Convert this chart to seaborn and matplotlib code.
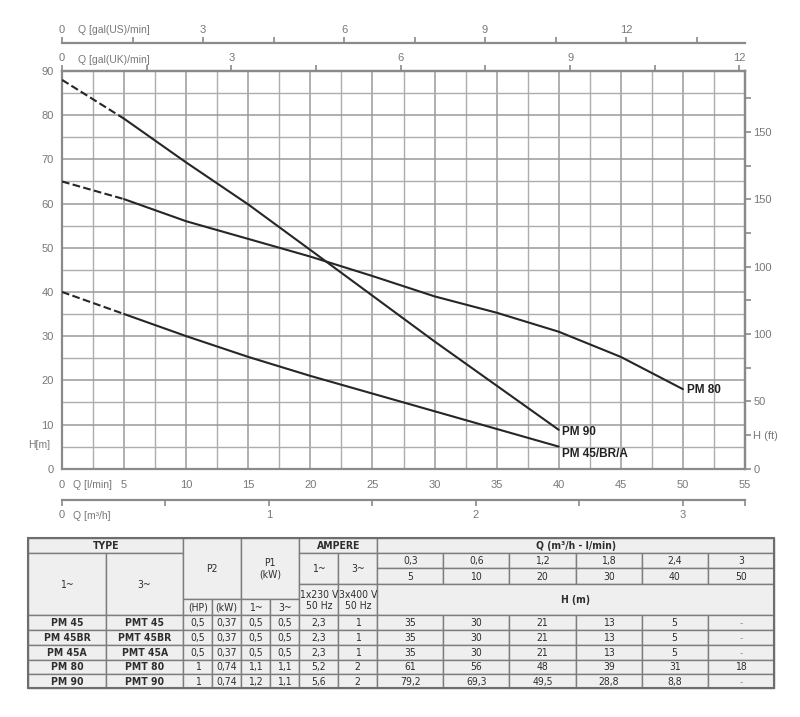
import numpy as np
import pandas as pd
import seaborn as sns
import matplotlib.pyplot as plt
from matplotlib import font_manager
from matplotlib.patches import Rectangle

# pump curves, Q in l/min, H in m
q_pm90 = [5, 10, 15, 20, 30, 40]
h_pm90 = [79.2, 69.3, 59.8, 49.5, 28.8, 8.8]
q_pm80 = [5, 10, 15, 20, 25, 30, 35, 40, 45, 50]
h_pm80 = [61, 56, 52, 48, 43.6, 39, 35.3, 31, 25.3, 18]
q_pm45 = [5, 10, 15, 20, 25, 30, 35, 40]
h_pm45 = [35, 30, 25.3, 21, 17, 13, 9, 5]
# head at zero flow (dashed extension)
h0_pm90 = 88
h0_pm80 = 65
h0_pm45 = 40

# table data
type_1ph = ['PM 45', 'PM 45BR', 'PM 45A', 'PM 80', 'PM 90']
type_3ph = ['PMT 45', 'PMT 45BR', 'PMT 45A', 'PMT 80', 'PMT 90']
p2_hp = ['0,5', '0,5', '0,5', '1', '1']
p2_kw = ['0,37', '0,37', '0,37', '0,74', '0,74']
p1_1ph = ['0,5', '0,5', '0,5', '1,1', '1,2']
p1_3ph = ['0,5', '0,5', '0,5', '1,1', '1,1']
amp_1ph = ['2,3', '2,3', '2,3', '5,2', '5,6']
amp_3ph = ['1', '1', '1', '2', '2']
q_m3h = ['0,3', '0,6', '1,2', '1,8', '2,4', '3']
q_lmin = ['5', '10', '20', '30', '40', '50']
head_rows = [
    ['35', '30', '21', '13', '5', '-'],
    ['35', '30', '21', '13', '5', '-'],
    ['35', '30', '21', '13', '5', '-'],
    ['61', '56', '48', '39', '31', '18'],
    ['79,2', '69,3', '49,5', '28,8', '8,8', '-'],
]

sns.set_style('white')
plt.rcParams['font.family'] = ['Liberation Sans', 'DejaVu Sans']

# the table uses a condensed face if one is installed
fl = font_manager.fontManager.ttflist
if any(f.name == 'Liberation Sans Narrow' for f in fl):
    tfam, tstretch, tsize, vsize = ['Liberation Sans Narrow', 'DejaVu Sans'], 'normal', 8.5, 8.5
elif any(f.name == 'DejaVu Sans' and f.stretch == 'condensed' for f in fl):
    tfam, tstretch, tsize, vsize = ['DejaVu Sans'], 'condensed', 7.5, 7.5
else:
    tfam, tstretch, tsize, vsize = ['Liberation Sans', 'DejaVu Sans'], 'normal', 7.8, 6.8

GRID = '#9a9a9a'
AXC = '#8a8a8a'
TXT = '#787878'
LINE = '#262626'

fig = plt.figure(figsize=(8, 7.17), dpi=100)
ax = fig.add_axes([62 / 800, 1 - 468.7 / 717, 683 / 800, 397.7 / 717])

# curves
curves = {'PM 90': (q_pm90, h_pm90, h0_pm90),
          'PM 80': (q_pm80, h_pm80, h0_pm80),
          'PM 45/BR/A': (q_pm45, h_pm45, h0_pm45)}
for name, (q, h, h0) in curves.items():
    solid = pd.DataFrame({'Q': q, 'H': h})
    ext = pd.DataFrame({'Q': [0, q[0]], 'H': [h0, h[0]]})
    sns.lineplot(data=solid, x='Q', y='H', ax=ax, color=LINE, lw=1.5,
                 estimator=None, sort=False, zorder=3)
    sns.lineplot(data=ext, x='Q', y='H', ax=ax, color=LINE, lw=1.5,
                 estimator=None, sort=False, zorder=3, dashes=(3, 2), linestyle='--')

ax.text(50.3, 17.8, 'PM 80', fontsize=8.5, fontweight='bold', color='#222', va='center')
ax.text(40.3, 8.3, 'PM 90', fontsize=8.5, fontweight='bold', color='#222', va='center')
ax.text(40.3, 3.3, 'PM 45/BR/A', fontsize=8.5, fontweight='bold', color='#222', va='center')

ax.set_xlim(0, 55)
ax.set_ylim(0, 90)
ax.set_xlabel('')
ax.set_ylabel('')
ax.set_xticks(np.arange(0, 56, 5))
ax.set_xticks(np.arange(2.5, 55, 5), minor=True)
ax.set_yticks(np.arange(0, 91, 10))
ax.set_yticks(np.arange(5, 90, 10), minor=True)
ax.grid(which='major', color=GRID, lw=1.1)
ax.grid(which='minor', color='#adadad', lw=1.0)
ax.set_axisbelow(True)
ax.tick_params(which='major', axis='both', direction='out', length=4, width=1.2,
               color=AXC, labelcolor=TXT, labelsize=8, pad=2)
ax.tick_params(which='minor', length=0)
ax.tick_params(axis='x', pad=4)
for s in ax.spines.values():
    s.set_color(AXC)
    s.set_linewidth(1.6)

ax.text(0.9, -0.042, 'Q [l/min]', transform=ax.get_xaxis_transform(),
        fontsize=7.5, color=TXT, va='center', clip_on=False)
ax.text(-0.97, 5.3, 'H[m]', fontsize=7.5, color=TXT, ha='right', va='center', clip_on=False)

# top axes: gal(UK)/min on the frame, gal(US)/min above it
uk = ax.secondary_xaxis('top', functions=(lambda x: x / 4.546, lambda g: g * 4.546))
uk.set_xticks([0, 3, 6, 9, 12])
uk.set_xticks([1.5, 4.5, 7.5, 10.5], minor=True)
us = ax.secondary_xaxis(1.0704, functions=(lambda x: x / 3.785, lambda g: g * 3.785))
us.set_xticks([0, 3, 6, 9, 12])
us.set_xticks([1.5, 4.5, 7.5, 10.5, 13.5], minor=True)
# bottom axis: m3/h
m3 = ax.secondary_xaxis(-0.0787, functions=(lambda x: x * 0.06, lambda v: v / 0.06))
m3.set_xticks([0, 1, 2, 3])
m3.set_xticks([0.5, 1.5, 2.5, 3.3], minor=True)
for sec in (uk, us, m3):
    sec.tick_params(which='both', direction='out', length=4, width=1.2,
                    color=AXC, labelcolor=TXT, labelsize=8, pad=2)
    for s in sec.spines.values():
        s.set_color(AXC)
        s.set_linewidth(1.6)
m3.tick_params(pad=3)

ax.text(1.3, 1.028, 'Q [gal(UK)/min]', transform=ax.get_xaxis_transform(),
        fontsize=7.5, color=TXT, va='center', clip_on=False)
ax.text(1.3, 1.103, 'Q [gal(US)/min]', transform=ax.get_xaxis_transform(),
        fontsize=7.5, color=TXT, va='center', clip_on=False)
ax.text(0.9, -0.119, 'Q [m\u00b3/h]', transform=ax.get_xaxis_transform(),
        fontsize=7.5, color=TXT, va='center', clip_on=False)

# right axis: H in ft (labels as printed)
ft = ax.secondary_yaxis('right', functions=(lambda m: m / 0.3048, lambda f: f * 0.3048))
ft_ticks = np.arange(0, 276, 25)
ft_labels = ['0', 'H (ft)', '50', '', '100', '', '100', '', '150', '', '150', '']
ft.set_yticks(ft_ticks)
ft.set_yticklabels(ft_labels)
ft.tick_params(direction='out', length=4, width=1.2, color=AXC,
               labelcolor=TXT, labelsize=8, pad=2)
for s in ft.spines.values():
    s.set_color(AXC)
    s.set_linewidth(1.6)

# table
tab = fig.add_axes([0, 0, 1, 1])
tab.set_xlim(0, 800)
tab.set_ylim(717, 0)
tab.axis('off')
cols = [28.3, 106, 183.3, 212.3, 241.3, 270.3, 299.3, 338.3, 377.3,
        443.3, 509.3, 575.7, 641.7, 707.7, 774.3]
rows = [537.7, 553.3, 568.3, 584.3, 599.3, 615, 630, 645, 659.5, 674.3, 688.3]


def cell(c0, c1, r0, r1, text, bold=False, color='#2e2e2e', size=None):
    x0, x1, y0, y1 = cols[c0], cols[c1], rows[r0], rows[r1]
    tab.add_patch(Rectangle((x0, y0), x1 - x0, y1 - y0, facecolor='#efefef',
                            edgecolor='#7d7d7d', lw=1.0))
    tab.text((x0 + x1) / 2, (y0 + y1) / 2 + 0.5, text, ha='center', va='center',
             fontsize=size or tsize, family=tfam, fontstretch=tstretch, color=color,
             linespacing=1.15, fontweight='bold' if bold else 'normal')


cell(0, 2, 0, 1, 'TYPE', True)
cell(0, 1, 1, 5, '1~')
cell(1, 2, 1, 5, '3~')
cell(2, 4, 0, 4, 'P2')
cell(2, 3, 4, 5, '(HP)')
cell(3, 4, 4, 5, '(kW)')
cell(4, 6, 0, 4, 'P1\n(kW)')
cell(4, 5, 4, 5, '1~')
cell(5, 6, 4, 5, '3~')
cell(6, 8, 0, 1, 'AMPERE', True)
cell(6, 7, 1, 3, '1~')
cell(7, 8, 1, 3, '3~')
cell(6, 7, 3, 5, '1x230 V\n50 Hz', size=vsize)
cell(7, 8, 3, 5, '3x400 V\n50 Hz', size=vsize)
cell(8, 14, 0, 1, 'Q (m\u00b3/h - l/min)', True)
for i in range(6):
    cell(8 + i, 9 + i, 1, 2, q_m3h[i])
    cell(8 + i, 9 + i, 2, 3, q_lmin[i])
cell(8, 14, 3, 5, 'H (m)', True)
for r in range(5):
    rr = 5 + r
    cell(0, 1, rr, rr + 1, type_1ph[r], True)
    cell(1, 2, rr, rr + 1, type_3ph[r], True)
    cell(2, 3, rr, rr + 1, p2_hp[r])
    cell(3, 4, rr, rr + 1, p2_kw[r])
    cell(4, 5, rr, rr + 1, p1_1ph[r])
    cell(5, 6, rr, rr + 1, p1_3ph[r])
    cell(6, 7, rr, rr + 1, amp_1ph[r])
    cell(7, 8, rr, rr + 1, amp_3ph[r])
    for i, v in enumerate(head_rows[r]):
        cell(8 + i, 9 + i, rr, rr + 1, v, color='#999999' if v == '-' else '#2e2e2e')
tab.add_patch(Rectangle((cols[0], rows[0]), cols[-1] - cols[0], rows[-1] - rows[0],
                        fill=False, edgecolor='#6e6e6e', lw=1.5))

fig.savefig('out.png', dpi=100)
